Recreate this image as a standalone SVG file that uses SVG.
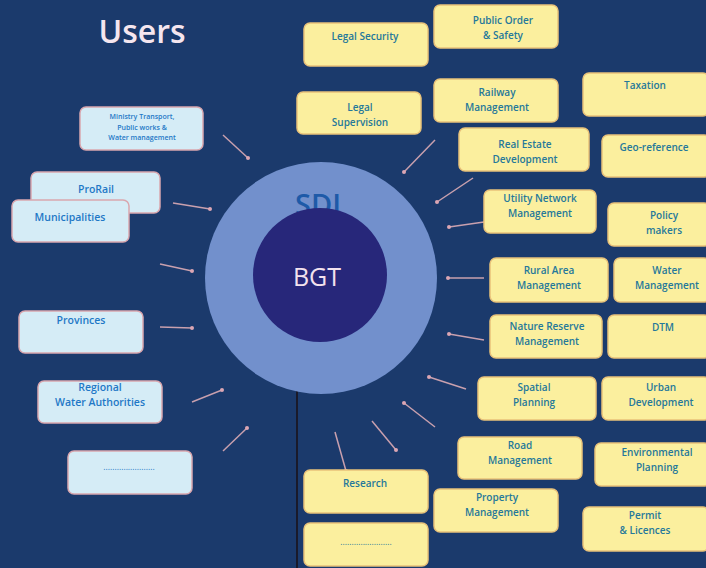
<svg xmlns="http://www.w3.org/2000/svg" width="706" height="568" viewBox="0 0 706 568">
<defs>
<style>
.bg{fill:#1b3a6c}
.y rect{fill:#fbef9e;stroke:#e9c27a;stroke-width:1.5}
.b rect{fill:#d5ecf6;stroke:#d9a6ae;stroke-width:1.5}
.y text{font-family:"Open Sans","Noto Sans",sans-serif;font-weight:600;font-size:10px;fill:#25789a;text-anchor:middle}
.b text{font-family:"Open Sans","Noto Sans",sans-serif;font-weight:600;font-size:10.5px;fill:#1f78c6;text-anchor:middle}
.b text.sm{font-size:7px}
text.dots{font-size:8.5px;font-weight:400;letter-spacing:0}
.c line{stroke:#c9a0ae;stroke-width:1.5}
.c circle{fill:#dca6b4}
</style>
</defs>
<rect class="bg" x="0" y="0" width="706" height="568"/>
<text x="142" y="43" font-family="Open Sans, Noto Sans, sans-serif" font-weight="600" font-size="32" fill="#f5e6ef" text-anchor="middle">Users</text>

<g id="hub">
<line x1="297" y1="390" x2="297" y2="568" stroke="#1a1a2a" stroke-width="2"/>
<circle cx="321" cy="278" r="116" fill="#7290cc"/>
<text x="318" y="215" font-family="Open Sans, Noto Sans, sans-serif" font-weight="600" font-size="29" fill="#1e5aa8" text-anchor="middle">SDI</text>
<circle cx="320" cy="275" r="67" fill="#27277a"/>
<text x="317" y="286" font-family="Open Sans, Noto Sans, sans-serif" font-size="25" fill="#f3e2ee" text-anchor="middle">BGT</text>
</g>

<g id="connectors" class="c">
<line x1="223" y1="135" x2="248" y2="158"/><circle cx="248" cy="158" r="2"/>
<line x1="173" y1="203" x2="210" y2="209"/><circle cx="210" cy="209" r="2"/>
<line x1="160" y1="264" x2="192" y2="271"/><circle cx="192" cy="271" r="2"/>
<line x1="160" y1="327" x2="192" y2="328"/><circle cx="192" cy="328" r="2"/>
<line x1="192" y1="402" x2="222" y2="390"/><circle cx="222" cy="390" r="2"/>
<line x1="223" y1="451" x2="247" y2="428"/><circle cx="247" cy="428" r="2"/>
<line x1="435" y1="140" x2="404" y2="172"/><circle cx="404" cy="172" r="2"/>
<line x1="473" y1="178" x2="437" y2="202"/><circle cx="437" cy="202" r="2"/>
<line x1="484" y1="222" x2="449" y2="227"/><circle cx="449" cy="227" r="2"/>
<line x1="484" y1="278" x2="448" y2="278"/><circle cx="448" cy="278" r="2"/>
<line x1="484" y1="340" x2="449" y2="334"/><circle cx="449" cy="334" r="2"/>
<line x1="466" y1="389" x2="429" y2="377"/><circle cx="429" cy="377" r="2"/>
<line x1="435" y1="427" x2="404" y2="403"/><circle cx="404" cy="403" r="2"/>
<line x1="372" y1="421" x2="396" y2="450"/><circle cx="396" cy="450" r="2"/>
<line x1="335" y1="432" x2="346" y2="471"/><circle cx="346" cy="471" r="2"/>
</g>

<g id="ministry" class="b"><rect x="80" y="107" width="123" height="43" rx="6"/>
<text class="sm" x="142" y="119">Ministry Transport,</text><text class="sm" x="142" y="129.5">Public works &amp;</text><text class="sm" x="142" y="140">Water management</text></g>
<g id="prorail" class="b"><rect x="31" y="172" width="129" height="41" rx="6"/><text x="96" y="193">ProRail</text></g>
<g id="municipalities" class="b"><rect x="12" y="200" width="117" height="42" rx="6"/><text x="70" y="221">Municipalities</text></g>
<g id="provinces" class="b"><rect x="19" y="311" width="124" height="42" rx="6"/><text x="81" y="324">Provinces</text></g>
<g id="water-authorities" class="b"><rect x="38" y="381" width="124" height="42" rx="6"/><text x="100" y="391">Regional</text><text x="100" y="406">Water Authorities</text></g>
<g id="users-more" class="b"><rect x="68" y="451" width="124" height="43" rx="6"/><text class="dots" x="129" y="470">.......................</text></g>

<g id="legal-security" class="y"><rect x="304" y="23" width="124" height="43" rx="6"/><text x="365" y="39.5">Legal Security</text></g>
<g id="public-order" class="y"><rect x="434" y="5" width="124" height="43" rx="6"/><text x="503" y="24">Public Order</text><text x="503" y="39">&amp; Safety</text></g>
<g id="legal-supervision" class="y"><rect x="297" y="92" width="124" height="42" rx="6"/><text x="360" y="111">Legal</text><text x="360" y="126">Supervision</text></g>
<g id="railway" class="y"><rect x="434" y="79" width="124" height="43" rx="6"/><text x="497" y="96">Railway</text><text x="497" y="111">Management</text></g>
<g id="taxation" class="y"><rect x="583" y="73" width="126" height="43" rx="6"/><text x="645" y="89">Taxation</text></g>
<g id="real-estate" class="y"><rect x="459" y="128" width="130" height="43" rx="6"/><text x="525" y="148">Real Estate</text><text x="525" y="163">Development</text></g>
<g id="geo-reference" class="y"><rect x="602" y="135" width="108" height="42" rx="6"/><text x="654" y="151">Geo-reference</text></g>
<g id="utility" class="y"><rect x="484" y="190" width="112" height="43" rx="6"/><text x="540" y="202">Utility Network</text><text x="540" y="217">Management</text></g>
<g id="policy" class="y"><rect x="608" y="203" width="102" height="43" rx="6"/><text x="664" y="219">Policy</text><text x="664" y="234">makers</text></g>
<g id="rural" class="y"><rect x="490" y="258" width="118" height="44" rx="6"/><text x="549" y="274">Rural Area</text><text x="549" y="289">Management</text></g>
<g id="water-management" class="y"><rect x="614" y="258" width="96" height="44" rx="6"/><text x="667" y="274">Water</text><text x="667" y="289">Management</text></g>
<g id="nature" class="y"><rect x="490" y="315" width="112" height="43" rx="6"/><text x="547" y="330">Nature Reserve</text><text x="547" y="345">Management</text></g>
<g id="dtm" class="y"><rect x="608" y="315" width="102" height="43" rx="6"/><text x="663" y="331">DTM</text></g>
<g id="spatial" class="y"><rect x="478" y="377" width="118" height="43" rx="6"/><text x="534" y="391">Spatial</text><text x="534" y="406">Planning</text></g>
<g id="urban" class="y"><rect x="602" y="377" width="108" height="43" rx="6"/><text x="661" y="391">Urban</text><text x="661" y="406">Development</text></g>
<g id="road" class="y"><rect x="458" y="437" width="124" height="42" rx="6"/><text x="520" y="449">Road</text><text x="520" y="464">Management</text></g>
<g id="environmental" class="y"><rect x="595" y="443" width="115" height="43" rx="6"/><text x="657" y="456">Environmental</text><text x="657" y="471">Planning</text></g>
<g id="research" class="y"><rect x="304" y="470" width="124" height="43" rx="6"/><text x="365" y="487">Research</text></g>
<g id="property" class="y"><rect x="434" y="489" width="124" height="43" rx="6"/><text x="497" y="501">Property</text><text x="497" y="516">Management</text></g>
<g id="permit" class="y"><rect x="583" y="507" width="126" height="44" rx="6"/><text x="645" y="519">Permit</text><text x="645" y="534">&amp; Licences</text></g>
<g id="uses-more" class="y"><rect x="304" y="523" width="124" height="43" rx="6"/><text class="dots" x="366" y="545">.......................</text></g>
</svg>
